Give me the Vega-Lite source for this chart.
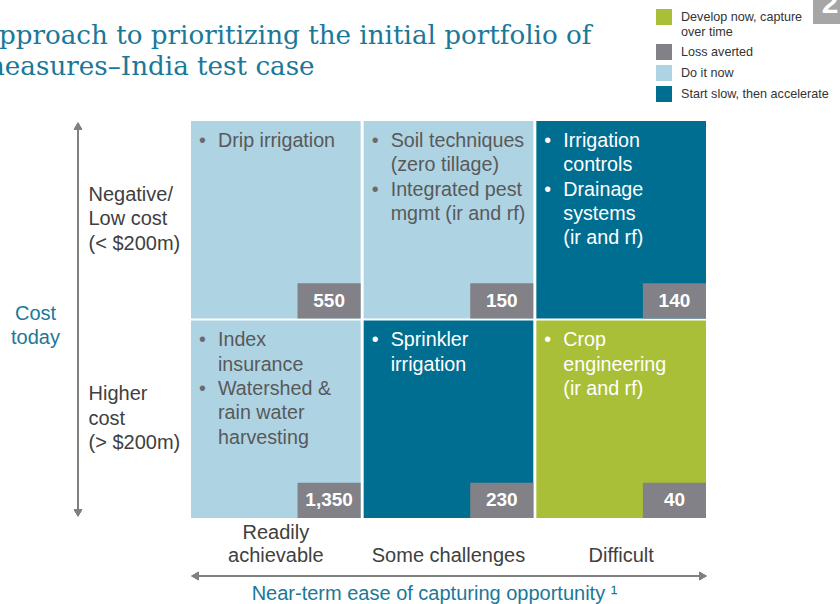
{
  "$schema": "https://vega.github.io/schema/vega-lite/v6.json",
  "width": 515,
  "height": 397,
  "autosize": {"type": "none"},
  "padding": {"left": 191, "top": 121, "right": 134, "bottom": 86},
  "background": "white",
  "config": {"view": {"stroke": null}, "font": "Liberation Sans"},
  "title": {
    "text": ["Approach to prioritizing the initial portfolio of", "measures\u2013India test case"],
    "anchor": "start",
    "frame": "group",
    "dx": -211,
    "dy": 112,
    "offset": 0,
    "font": "DejaVu Serif",
    "fontSize": 26.2,
    "fontWeight": "normal",
    "color": "#1a7898",
    "lineHeight": 31,
    "baseline": "alphabetic"
  },
  "datasets": {
    "cells": [
      {"ease": "Readily achievable", "cost": "Negative/Low cost (< $200m)", "strategy": "Do it now", "loss": 550},
      {"ease": "Some challenges", "cost": "Negative/Low cost (< $200m)", "strategy": "Do it now", "loss": 150},
      {"ease": "Difficult", "cost": "Negative/Low cost (< $200m)", "strategy": "Start slow, then accelerate", "loss": 140},
      {"ease": "Readily achievable", "cost": "Higher cost (> $200m)", "strategy": "Do it now", "loss": 1350},
      {"ease": "Some challenges", "cost": "Higher cost (> $200m)", "strategy": "Start slow, then accelerate", "loss": 230},
      {"ease": "Difficult", "cost": "Higher cost (> $200m)", "strategy": "Develop now, capture over time", "loss": 40}
    ],
    "items": [
      {"ease": "Readily achievable", "cost": "Negative/Low cost (< $200m)", "strategy": "Do it now", "line": 0, "text": ["Drip irrigation"]},
      {"ease": "Some challenges", "cost": "Negative/Low cost (< $200m)", "strategy": "Do it now", "line": 0, "text": ["Soil techniques", "(zero tillage)"]},
      {"ease": "Some challenges", "cost": "Negative/Low cost (< $200m)", "strategy": "Do it now", "line": 2, "text": ["Integrated pest", "mgmt (ir and rf)"]},
      {"ease": "Difficult", "cost": "Negative/Low cost (< $200m)", "strategy": "Start slow, then accelerate", "line": 0, "text": ["Irrigation", "controls"]},
      {"ease": "Difficult", "cost": "Negative/Low cost (< $200m)", "strategy": "Start slow, then accelerate", "line": 2, "text": ["Drainage", "systems", "(ir and rf)"]},
      {"ease": "Readily achievable", "cost": "Higher cost (> $200m)", "strategy": "Do it now", "line": 0, "text": ["Index", "insurance"]},
      {"ease": "Readily achievable", "cost": "Higher cost (> $200m)", "strategy": "Do it now", "line": 2, "text": ["Watershed &", "rain water", "harvesting"]},
      {"ease": "Some challenges", "cost": "Higher cost (> $200m)", "strategy": "Start slow, then accelerate", "line": 0, "text": ["Sprinkler", "irrigation"]},
      {"ease": "Difficult", "cost": "Higher cost (> $200m)", "strategy": "Develop now, capture over time", "line": 0, "text": ["Crop", "engineering", "(ir and rf)"]}
    ],
    "corner": [{"page": "2"}]
  },
  "data": {"name": "cells"},
  "layer": [
    {
      "mark": {"type": "rect"},
      "encoding": {
        "x": {
          "field": "ease", "type": "nominal",
          "scale": {"domain": ["Readily achievable", "Some challenges", "Difficult"], "paddingInner": 0.0174, "paddingOuter": 0},
          "axis": {
            "title": ["Near-term ease of capturing opportunity \u00b9"],
            "orient": "bottom",
            "domain": false, "ticks": false, "tickSize": 0, "grid": false,
            "labelAngle": 0,
            "labelFont": "Liberation Sans", "labelFontSize": 20, "labelColor": "#404040",
            "labelBaseline": "alphabetic", "labelLineHeight": 23, "labelPadding": 20,
            "labelExpr": "datum.value == 'Readily achievable' ? ['Readily', 'achievable'] : ['\u00a0', datum.value]",
            "titleFont": "Liberation Sans", "titleFontSize": 20, "titleFontWeight": "normal", "titleColor": "#1a7898",
            "titleX": 243, "titleY": 81, "titleAlign": "center", "titleBaseline": "alphabetic"
          }
        },
        "y": {
          "field": "cost", "type": "nominal",
          "scale": {"domain": ["Negative/Low cost (< $200m)", "Higher cost (> $200m)"], "paddingInner": 0.01, "paddingOuter": 0},
          "axis": {
            "title": ["Cost", "today"],
            "orient": "left",
            "domain": false, "ticks": false, "tickSize": 0, "grid": false,
            "labelFont": "Liberation Sans", "labelFontSize": 20, "labelColor": "#404040",
            "labelAlign": "left", "labelBaseline": "middle", "labelLineHeight": 24.5, "labelPadding": 103, "labelOffset": -25,
            "labelExpr": "datum.value == 'Negative/Low cost (< $200m)' ? ['Negative/', 'Low cost', '(< $200m)'] : ['Higher', 'cost', '(> $200m)']",
            "titleFont": "Liberation Sans", "titleFontSize": 20, "titleFontWeight": "normal", "titleColor": "#1a7898",
            "titleAngle": 0, "titleX": -156, "titleY": 198, "titleAlign": "center", "titleBaseline": "alphabetic", "titleLineHeight": 24
          }
        },
        "color": {
          "field": "strategy", "type": "nominal",
          "scale": {
            "domain": ["Develop now, capture over time", "Loss averted", "Do it now", "Start slow, then accelerate"],
            "range": ["#a9bf38", "#828187", "#aed3e3", "#006e91"]
          },
          "legend": {
            "title": null,
            "orient": "none", "legendX": 465, "legendY": -112,
            "symbolType": "square", "symbolSize": 256, "symbolStrokeWidth": 0, "symbolOpacity": 1,
            "labelFont": "Liberation Sans", "labelFontSize": 12.6, "labelColor": "#333333",
            "labelOffset": 9, "rowPadding": 5, "labelLimit": 300,
            "labelExpr": "datum.label == 'Develop now, capture over time' ? ['Develop now, capture', 'over time'] : datum.label"
          }
        }
      }
    },
    {
      "mark": {"type": "rect"},
      "encoding": {
        "x": {"field": "ease", "type": "nominal", "bandPosition": 0.628},
        "x2": {"field": "ease", "bandPosition": 1},
        "y": {"field": "cost", "type": "nominal", "bandPosition": 0.822},
        "y2": {"field": "cost", "bandPosition": 1},
        "color": {"datum": "Loss averted"}
      }
    },
    {
      "mark": {"type": "text", "font": "Liberation Sans", "fontSize": 19, "fontWeight": "bold", "color": "white", "align": "center", "baseline": "middle"},
      "encoding": {
        "x": {"field": "ease", "type": "nominal", "bandPosition": 0.814},
        "y": {"field": "cost", "type": "nominal", "bandPosition": 0.911},
        "text": {"field": "loss", "type": "quantitative", "format": ","}
      }
    },
    {
      "data": {"name": "items"},
      "transform": [{"filter": "datum.line == 0"}],
      "mark": {"type": "text", "font": "Liberation Sans", "fontSize": 19.7, "align": "left", "baseline": "alphabetic", "lineHeight": 24.3, "dx": 27, "dy": 26},
      "encoding": {
        "x": {"field": "ease", "type": "nominal", "bandPosition": 0},
        "y": {"field": "cost", "type": "nominal", "bandPosition": 0},
        "text": {"field": "text", "type": "nominal"},
        "color": {"condition": {"test": "datum.strategy === 'Do it now'", "value": "#595959"}, "value": "white"}
      }
    },
    {
      "data": {"name": "items"},
      "transform": [{"filter": "datum.line == 2"}],
      "mark": {"type": "text", "font": "Liberation Sans", "fontSize": 19.7, "align": "left", "baseline": "alphabetic", "lineHeight": 24.3, "dx": 27, "dy": 74.6},
      "encoding": {
        "x": {"field": "ease", "type": "nominal", "bandPosition": 0},
        "y": {"field": "cost", "type": "nominal", "bandPosition": 0},
        "text": {"field": "text", "type": "nominal"},
        "color": {"condition": {"test": "datum.strategy === 'Do it now'", "value": "#595959"}, "value": "white"}
      }
    },
    {
      "data": {"name": "items"},
      "transform": [{"filter": "datum.line == 0"}],
      "mark": {"type": "text", "font": "Liberation Sans", "fontSize": 19.5, "align": "left", "baseline": "alphabetic", "dx": 8, "dy": 26},
      "encoding": {
        "x": {"field": "ease", "type": "nominal", "bandPosition": 0},
        "y": {"field": "cost", "type": "nominal", "bandPosition": 0},
        "text": {"value": "\u2022"},
        "color": {"condition": {"test": "datum.strategy === 'Do it now'", "value": "#6a6a6a"}, "value": "white"}
      }
    },
    {
      "data": {"name": "items"},
      "transform": [{"filter": "datum.line == 2"}],
      "mark": {"type": "text", "font": "Liberation Sans", "fontSize": 19.5, "align": "left", "baseline": "alphabetic", "dx": 8, "dy": 74.6},
      "encoding": {
        "x": {"field": "ease", "type": "nominal", "bandPosition": 0},
        "y": {"field": "cost", "type": "nominal", "bandPosition": 0},
        "text": {"value": "\u2022"},
        "color": {"condition": {"test": "datum.strategy === 'Do it now'", "value": "#6a6a6a"}, "value": "white"}
      }
    },
    {
      "mark": {"type": "rule", "color": "#808080", "strokeWidth": 2},
      "encoding": {"x": {"value": -113}, "y": {"value": 6}, "y2": {"value": 391}}
    },
    {
      "mark": {"type": "point", "shape": "triangle-up", "filled": true, "color": "#808080", "size": 70, "opacity": 1},
      "encoding": {"x": {"value": -113}, "y": {"value": 5}}
    },
    {
      "mark": {"type": "point", "shape": "triangle-down", "filled": true, "color": "#808080", "size": 70, "opacity": 1},
      "encoding": {"x": {"value": -113}, "y": {"value": 392}}
    },
    {
      "mark": {"type": "rule", "color": "#808080", "strokeWidth": 2},
      "encoding": {"y": {"value": 455}, "x": {"value": 5}, "x2": {"value": 512}}
    },
    {
      "mark": {"type": "point", "shape": "triangle-left", "filled": true, "color": "#808080", "size": 70, "opacity": 1},
      "encoding": {"y": {"value": 455}, "x": {"value": 4}}
    },
    {
      "mark": {"type": "point", "shape": "triangle-right", "filled": true, "color": "#808080", "size": 70, "opacity": 1},
      "encoding": {"y": {"value": 455}, "x": {"value": 512}}
    },
    {
      "data": {"name": "corner"},
      "mark": {"type": "rect", "color": "#a6a6a6"},
      "encoding": {"x": {"value": 622}, "x2": {"value": 660}, "y": {"value": -121}, "y2": {"value": -97}}
    },
    {
      "data": {"name": "corner"},
      "mark": {"type": "text", "font": "Liberation Sans", "fontSize": 30, "fontWeight": "bold", "color": "white", "align": "center", "baseline": "alphabetic"},
      "encoding": {"x": {"value": 639}, "y": {"value": -108}, "text": {"field": "page"}}
    }
  ]
}
